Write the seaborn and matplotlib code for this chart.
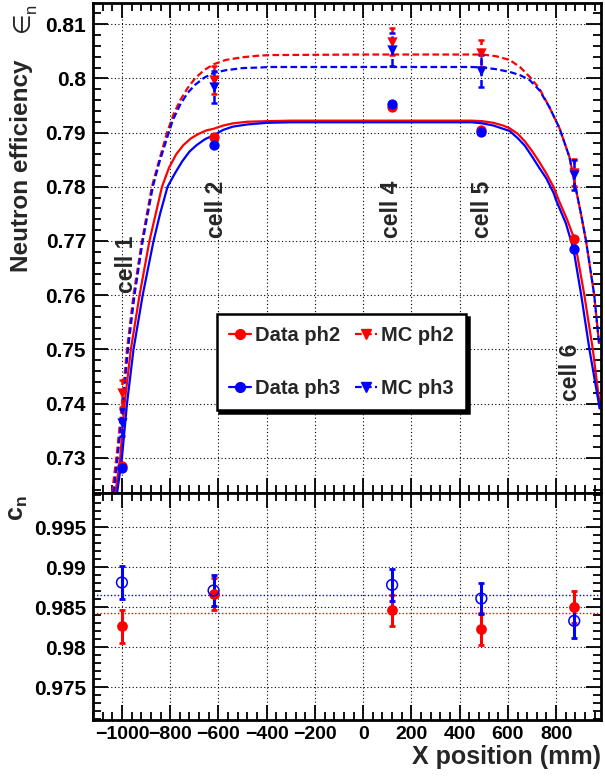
import matplotlib
matplotlib.use("Agg")
import matplotlib.pyplot as plt
from matplotlib.lines import Line2D
from matplotlib.ticker import MultipleLocator, AutoMinorLocator
import seaborn as sns

# cell centres (mm)
cells = [-1000, -620, 120, 490, 875]
cell_names = ["cell 1", "cell 2", "cell 4", "cell 5", "cell 6"]

# neutron efficiency, top panel
data_ph2 = [0.7284, 0.7892, 0.7947, 0.7904, 0.7703]
data_ph3 = [0.7282, 0.7878, 0.7952, 0.7901, 0.7685]
data_err = [0.0005, 0.0005, 0.0005, 0.0005, 0.0005]
mc_ph2 = [0.7419, 0.7997, 0.8068, 0.8046, 0.7826]
mc_ph3 = [0.7365, 0.7984, 0.8053, 0.8014, 0.7822]
mc_ph2_err = [0.0025, 0.0025, 0.0025, 0.0025, 0.0025]
mc_ph3_err = [0.0025, 0.003, 0.003, 0.003, 0.0028]

# fitted curves
fit_data_ph2_x = [-1027, -1007, -989, -963, -927, -886, -860, -834, -805, -775, -745, -715, -685,
                  -650, -620, -580, -540, -480, -400, -300, 0, 400, 450, 494, 540, 580, 607, 640,
                  670, 700, 730, 760, 790, 811, 845, 876, 917, 952, 980]
fit_data_ph2_y = [0.7235, 0.730, 0.740, 0.750, 0.760, 0.770, 0.775, 0.780, 0.7835, 0.786, 0.7877,
                  0.7889, 0.7897, 0.7904, 0.7907, 0.7913, 0.7917, 0.7920, 0.7921, 0.7922, 0.7922,
                  0.7922, 0.7922, 0.7921, 0.7918, 0.7913, 0.7908, 0.7898, 0.7884, 0.7866, 0.7846,
                  0.7824, 0.7799, 0.7775, 0.7740, 0.7703, 0.760, 0.750, 0.740]
fit_data_ph3_x = [-1020, -1000, -979, -952, -914, -869, -842, -811, -780, -750, -720, -690, -655,
                  -620, -580, -540, -480, -400, -300, 0, 400, 450, 494, 540, 580, 607, 640, 670,
                  700, 730, 760, 790, 800, 840, 872, 904, 938, 977, 980]
fit_data_ph3_y = [0.7235, 0.730, 0.740, 0.750, 0.760, 0.770, 0.775, 0.780, 0.7825, 0.7847, 0.7865,
                  0.7877, 0.7888, 0.7895, 0.7905, 0.7911, 0.7915, 0.7918, 0.7919, 0.7919, 0.7919,
                  0.7919, 0.7917, 0.7913, 0.7907, 0.7903, 0.7890, 0.7876, 0.7856, 0.7835, 0.7815,
                  0.7788, 0.7775, 0.7733, 0.7685, 0.760, 0.750, 0.740, 0.7391]
fit_mc_ph2_x = [-1041, -1023, -1000, -979, -952, -917, -876, -845, -813, -785, -758, -728, -697,
                -660, -620, -570, -500, -430, -386, 0, 450, 494, 550, 607, 650, 690, 731, 772,
                814, 855, 880, 903, 924, 958, 978]
fit_mc_ph2_y = [0.7235, 0.730, 0.740, 0.750, 0.760, 0.770, 0.780, 0.785, 0.790, 0.7935, 0.796,
                0.7982, 0.800, 0.8015, 0.8026, 0.8034, 0.8039, 0.8042, 0.8043, 0.8044, 0.8044,
                0.8044, 0.8041, 0.8034, 0.8021, 0.8003, 0.7981, 0.7947, 0.7908, 0.7855, 0.780,
                0.775, 0.770, 0.760, 0.751]
fit_mc_ph3_x = [-1035, -1018, -996, -975, -948, -914, -872, -845, -820, -790, -758, -728, -697,
                -660, -620, -570, -500, -430, -386, 0, 450, 494, 550, 607, 650, 690, 731, 772,
                814, 855, 880, 903, 924, 958, 978]
fit_mc_ph3_y = [0.7235, 0.730, 0.740, 0.750, 0.760, 0.770, 0.780, 0.7845, 0.788, 0.7922, 0.7952,
                0.7973, 0.7988, 0.8001, 0.8010, 0.8015, 0.8019, 0.8020, 0.8021, 0.8021, 0.8021,
                0.8020, 0.8017, 0.8012, 0.8006, 0.7997, 0.7978, 0.7947, 0.7908, 0.7855, 0.780,
                0.775, 0.770, 0.760, 0.751]

# correction factor c_n, bottom panel
cn_ph2 = [0.9826, 0.9867, 0.9846, 0.9823, 0.9850]
cn_ph2_err = [0.0021, 0.0020, 0.0019, 0.0020, 0.0020]
cn_ph3 = [0.9881, 0.9871, 0.9878, 0.9861, 0.9833]
cn_ph3_err = [0.0021, 0.0020, 0.0020, 0.0020, 0.0021]
cn_ph2_mean = 0.98429
cn_ph3_mean = 0.98650

RED = "#ff0000"
BLUE = "#0000ff"
DASH = (0, (3, 1.5))

sns.set_theme(style="ticks")
plt.rcParams["font.family"] = ["Liberation Sans", "DejaVu Sans"]
plt.rcParams["font.weight"] = "bold"
plt.rcParams["mathtext.fontset"] = "custom"
plt.rcParams["mathtext.rm"] = "Liberation Sans"
plt.rcParams["mathtext.bf"] = "Liberation Sans:bold"

fig = plt.figure(figsize=(6.05, 7.78), dpi=100)
ax1 = fig.add_axes([0.1537, 0.3663, 0.8397, 0.6298])
ax2 = fig.add_axes([0.1537, 0.0746, 0.8397, 0.2917])


def style_axis(ax):
    ax.set_xlim(-1120, 986)
    ax.xaxis.set_major_locator(MultipleLocator(200))
    ax.xaxis.set_minor_locator(AutoMinorLocator(5))
    ax.yaxis.set_minor_locator(AutoMinorLocator(5))
    ax.grid(True, which="major", color="black", linestyle=(0, (1, 2.2)), linewidth=0.8)
    ax.set_axisbelow(True)
    ax.tick_params(which="both", direction="in", top=True, right=True, width=1.3,
                   labelsize=15, colors="black")
    ax.tick_params(which="major", length=11, pad=5)
    ax.tick_params(which="minor", length=5.5)
    for s in ax.spines.values():
        s.set_linewidth(2)
        s.set_color("black")
    ax.set_xlabel("")
    ax.set_ylabel("")


# ---- top panel ----
curves = [
    (fit_data_ph2_x, fit_data_ph2_y, RED, "-"),
    (fit_data_ph3_x, fit_data_ph3_y, BLUE, "-"),
    (fit_mc_ph2_x, fit_mc_ph2_y, RED, DASH),
    (fit_mc_ph3_x, fit_mc_ph3_y, BLUE, DASH),
]
for cx, cy, col, ls in curves:
    sns.lineplot(x=cx, y=cy, sort=False, estimator=None, color=col, linewidth=1.6,
                 linestyle=ls, ax=ax1)

for vals, errs, col in [(mc_ph2, mc_ph2_err, RED), (mc_ph3, mc_ph3_err, BLUE)]:
    eb = ax1.errorbar(cells, vals, yerr=errs, fmt="none", ecolor=col, elinewidth=1.8,
                      capsize=2, capthick=1.8)
    eb[2][0].set_linestyle(DASH)
    sns.scatterplot(x=cells, y=vals, marker="v", s=55, color=col, edgecolor=col,
                    linewidth=0, ax=ax1, zorder=4)

for vals, col in [(data_ph2, RED), (data_ph3, BLUE)]:
    ax1.errorbar(cells, vals, yerr=data_err, fmt="none", ecolor=col, elinewidth=1.5)
    sns.scatterplot(x=cells, y=vals, marker="o", s=55, color=col, edgecolor=col,
                    linewidth=0, ax=ax1, zorder=5)

label_pos = [(-982, 0.7657), (-609, 0.7759), (119, 0.7759), (495, 0.7759), (861, 0.7458)]
for name, (tx, ty) in zip(cell_names, label_pos):
    ax1.text(tx, ty, name, rotation=90, ha="center", va="center", fontsize=16.5,
             fontweight="bold")

ax1.set_ylim(0.7235, 0.8139)
ax1.yaxis.set_major_locator(MultipleLocator(0.01))
style_axis(ax1)
ax1.set_yticks([0.73, 0.74, 0.75, 0.76, 0.77, 0.78, 0.79, 0.80, 0.81])
ax1.set_yticklabels(["0.73", "0.74", "0.75", "0.76", "0.77", "0.78", "0.79", "0.8", "0.81"],
                    fontweight="bold")
ax1.tick_params(labelbottom=False)

handles = [
    Line2D([], [], color=RED, lw=1.6, marker="o", ms=7, mec=RED),
    Line2D([], [], color=BLUE, lw=1.6, marker="o", ms=7, mec=BLUE),
    Line2D([], [], color=RED, lw=1.6, ls=DASH, marker="v", ms=7, mec=RED),
    Line2D([], [], color=BLUE, lw=1.6, ls=DASH, marker="v", ms=7, mec=BLUE),
]
labels = ["Data ph2", "Data ph3", "MC ph2", "MC ph3"]
leg = ax1.legend(handles, labels, ncol=2, loc="center", bbox_to_anchor=(0.489, 0.267),
                 prop={"size": 14.5, "weight": "bold"}, frameon=True, fancybox=False,
                 edgecolor="black", framealpha=1, labelspacing=1.7, columnspacing=0.75,
                 handlelength=1.1, handletextpad=0.2, borderpad=0.6,
                 shadow={"facecolor": "black", "edgecolor": "black", "alpha": 1})
leg.get_frame().set_linewidth(1.8)

# ---- bottom panel ----
ax2.axhline(cn_ph2_mean, color=RED, linestyle=(0, (1, 1.5)), linewidth=1)
ax2.axhline(cn_ph3_mean, color=BLUE, linestyle=(0, (1, 1.5)), linewidth=1)
ax2.errorbar(cells, cn_ph2, yerr=cn_ph2_err, fmt="none", ecolor=RED, elinewidth=2.2,
             capsize=2, capthick=2)
sns.scatterplot(x=cells, y=cn_ph2, marker="o", s=60, color=RED, edgecolor=RED,
                linewidth=0, ax=ax2, zorder=4)
ax2.errorbar(cells, cn_ph3, yerr=cn_ph3_err, fmt="none", ecolor=BLUE, elinewidth=2.2,
             capsize=2, capthick=2)
sns.scatterplot(x=cells, y=cn_ph3, marker="o", s=60, facecolor="none", edgecolor=BLUE,
                linewidth=1.1, ax=ax2, zorder=5)

ax2.set_ylim(0.9709, 0.9993)
ax2.yaxis.set_major_locator(MultipleLocator(0.005))
style_axis(ax2)
ax2.set_yticks([0.975, 0.98, 0.985, 0.99, 0.995])
ax2.set_yticklabels(["0.975", "0.98", "0.985", "0.99", "0.995"], fontweight="bold")
xt = [-1000, -800, -600, -400, -200, 0, 200, 400, 600, 800]
ax2.set_xticks(xt)
ax2.set_xticklabels([str(v).replace("-", "\u2212") for v in xt], fontweight="bold")
ax2.tick_params(axis="x", pad=4, labelsize=14)

# axis titles
fig.text(0.993, 1 - 757 / 778, "X position (mm)", ha="right", va="center",
         fontsize=18, fontweight="bold")
fig.text(22 / 605, 1 - 166 / 778, "Neutron efficiency", rotation=90, ha="center",
         va="center", fontsize=17.5, fontweight="bold")
fig.text(22 / 605, 1 - 22 / 778, "\u2208", rotation=90, ha="center", va="center",
         fontsize=17, fontweight="normal", family=["DejaVu Sans"])
fig.text(31 / 605, 1 - 8 / 778, "n", rotation=90, ha="center", va="center",
         fontsize=12, fontweight="normal")
fig.text(18 / 605, 1 - 508 / 778, r"$\mathbf{c_n}$", rotation=90, ha="center",
         va="center", fontsize=18)

fig.savefig("out.png", dpi=100)
